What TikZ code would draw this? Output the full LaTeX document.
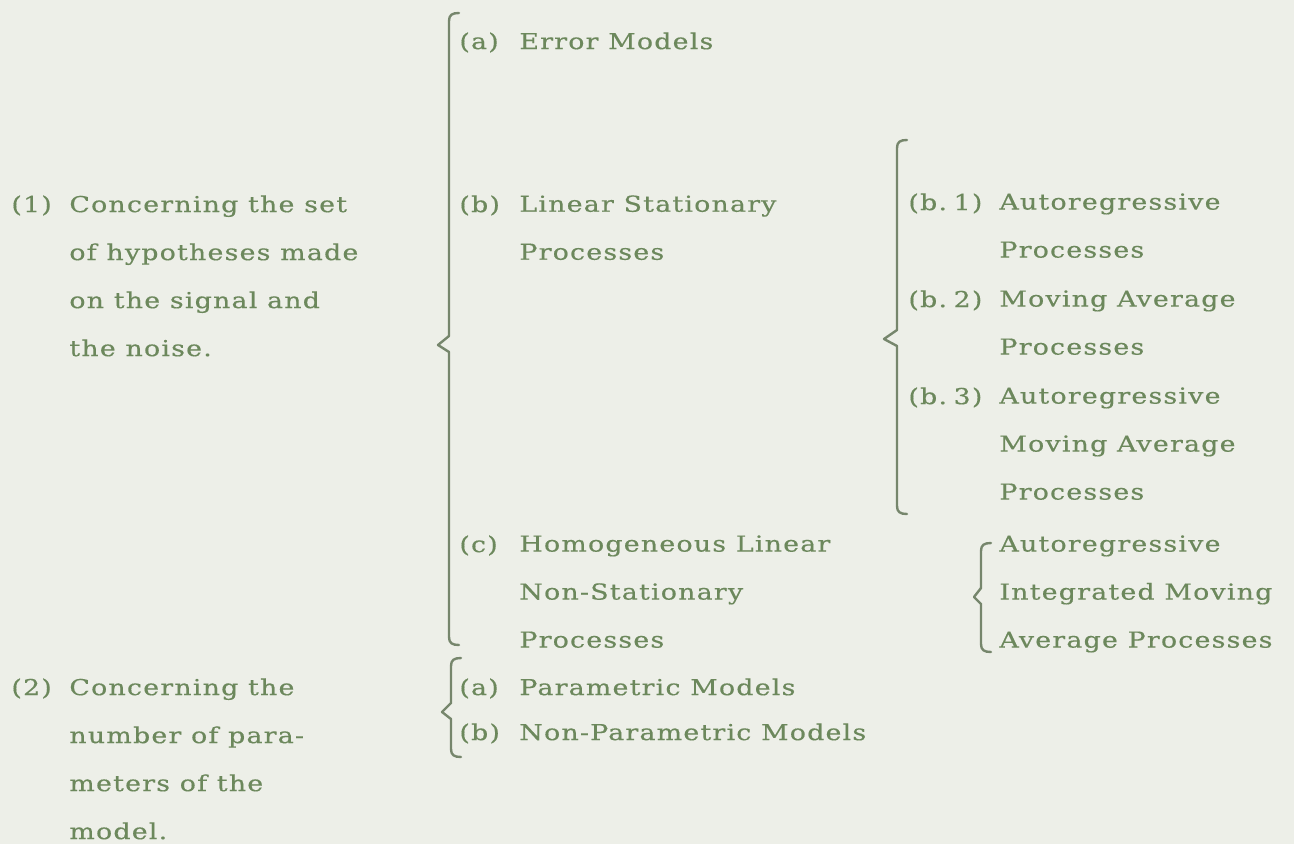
\documentclass[tikz,border=0pt]{standalone}
\usepackage{fontspec}
\setmainfont{DejaVu Serif}[FakeStretch=1.22,LetterSpace=5.5,FakeBold=0.4]
\usepackage{tikz}
\usetikzlibrary{calc}
\definecolor{inkgreen}{RGB}{108,136,92}
\definecolor{bracegray}{RGB}{118,134,108}
\definecolor{paper}{RGB}{237,239,232}
\newcommand{\sortbrace}[5]{%
  % stem at x=#1 from #2 down to #5, point of the brace at (#3,#4).
  \draw[sortline] ({#1+10},#2) .. controls ({#1+3},#2) and (#1,{#2+2}) .. (#1,{#2+8})
    -- (#1,{#4-9}) -- (#3,#4) -- (#1,{#4+7}) -- (#1,{#5-8})
    .. controls (#1,{#5-2}) and ({#1+3},#5) .. ({#1+10},#5);
}

\begin{document}
\begin{tikzpicture}[x=0.5pt,y=-0.5pt,
  entry/.style={anchor=north west,inner sep=0pt,align=left,text=inkgreen,
    font=\fontsize{11}{24}\selectfont},
  sortline/.style={draw=bracegray,line width=1.2pt,line cap=round,line join=round}]
  \fill[paper] (0,0) rectangle (1294,844);

  % (1) hypotheses on signal and noise
  \node[entry] (n1) at (11,195) {(1)};
  \node[entry] (t1) at (69,195) {Concerning the set\\of hypotheses made\\on the signal and\\the noise.};
  \sortbrace{449}{13}{438}{345}{645}
  \node[entry] (na) at (459,32) {(a)};
  \node[entry] (ta) at (519,32) {Error Models};
  \node[entry] (nb) at (459,195) {(b)};
  \node[entry] (tb) at (519,195) {Linear Stationary\\Processes};
  \node[entry] (nc) at (459,535) {(c)};
  \node[entry] (tc) at (519,535) {Homogeneous Linear\\Non-Stationary\\Processes};

  % stationary sub-classes
  \sortbrace{897}{140}{884}{339}{514}
  \node[entry] (nb1) at (908,193) {(b.\hspace{0.3em}1)};
  \node[entry] (tb1) at (999,193) {Autoregressive\\Processes};
  \node[entry] (nb2) at (908,290) {(b.\hspace{0.3em}2)};
  \node[entry] (tb2) at (999,290) {Moving Average\\Processes};
  \node[entry] (nb3) at (908,387) {(b.\hspace{0.3em}3)};
  \node[entry] (tb3) at (999,387) {Autoregressive\\Moving Average\\Processes};

  % non-stationary
  \sortbrace{981}{543}{974}{597}{652}
  \node[entry] (tarima) at (999,535) {Autoregressive\\Integrated Moving\\Average Processes};

  % (2) number of parameters
  \node[entry] (n2) at (11,678) {(2)};
  \node[entry] (t2) at (69,678) {Concerning the\\number of para-\\meters of the\\model.};
  \sortbrace{451}{658}{442}{712}{757}
  \node[entry] (npa) at (459,678) {(a)};
  \node[entry] (tpa) at (519,678) {Parametric Models};
  \node[entry] (npb) at (459,723) {(b)};
  \node[entry] (tpb) at (519,723) {Non-Parametric Models};
\end{tikzpicture}
\end{document}
